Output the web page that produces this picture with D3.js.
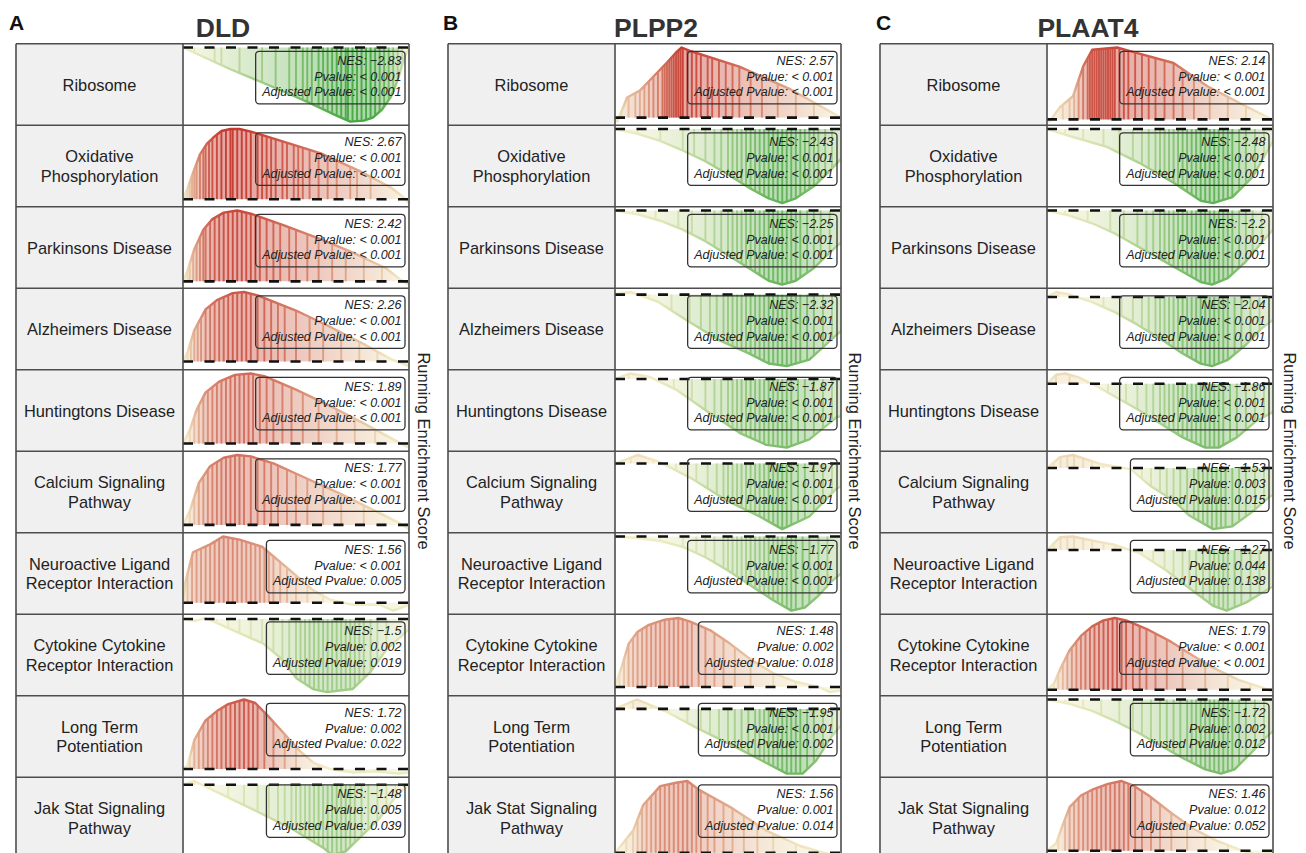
<!DOCTYPE html>
<html>
<head>
<meta charset="utf-8">
<script src="https://cdn.jsdelivr.net/npm/d3@7"></script>
<style>
  body { margin: 0; background: #fff; }
  svg { display: block; }
  text { font-family: "Liberation Sans", Arial, Helvetica, sans-serif; }
</style>
</head>
<body>
<svg id="fig" width="1306" height="853"></svg>
<script>
// ---------- data ----------
const genes = ["DLD", "PLPP2", "PLAAT4"];
const panelLetters = ["A", "B", "C"];
const pathways = [
  "Ribosome", "Oxidative\nPhosphorylation", "Parkinsons Disease", "Alzheimers Disease",
  "Huntingtons Disease", "Calcium Signaling\nPathway", "Neuroactive Ligand\nReceptor Interaction",
  "Cytokine Cytokine\nReceptor Interaction", "Long Term\nPotentiation", "Jak Stat Signaling\nPathway"
];

// normalized enrichment scores and p-values
const nesDLD = [-2.83, 2.67, 2.42, 2.26, 1.89, 1.77, 1.56, -1.5, 1.72, -1.48];
const pvalDLD = ["< 0.001", "< 0.001", "< 0.001", "< 0.001", "< 0.001", "< 0.001", "< 0.001", "0.002", "0.002", "0.005"];
const padjDLD = ["< 0.001", "< 0.001", "< 0.001", "< 0.001", "< 0.001", "< 0.001", "0.005", "0.019", "0.022", "0.039"];

const nesPLPP2 = [2.57, -2.43, -2.25, -2.32, -1.87, -1.97, -1.77, 1.48, -1.95, 1.56];
const pvalPLPP2 = ["< 0.001", "< 0.001", "< 0.001", "< 0.001", "< 0.001", "< 0.001", "< 0.001", "0.002", "< 0.001", "0.001"];
const padjPLPP2 = ["< 0.001", "< 0.001", "< 0.001", "< 0.001", "< 0.001", "< 0.001", "< 0.001", "0.018", "0.002", "0.014"];

const nesPLAAT4 = [2.14, -2.48, -2.2, -2.04, -1.86, -1.53, -1.27, 1.79, -1.72, 1.46];
const pvalPLAAT4 = ["< 0.001", "< 0.001", "< 0.001", "< 0.001", "< 0.001", "0.003", "0.044", "< 0.001", "0.002", "0.012"];
const padjPLAAT4 = ["< 0.001", "< 0.001", "< 0.001", "< 0.001", "< 0.001", "0.015", "0.138", "< 0.001", "0.012", "0.052"];

// running enrichment score: [rank fraction, ES]
const curvesDLD = [
  [[0,0],[.21,-.22],[.43,-.43],[.56,-.56],[.67,-.68],[.74,-.75],[.8,-.74],[.84,-.71],[.88,-.63],[.92,-.5],[.95,-.33],[.98,-.1],[1,0]],
  [[0,0],[.02,.11],[.044,.27],[.075,.46],[.106,.57],[.133,.63],[.17,.7],[.21,.72],[.25,.72],[.305,.69],[.43,.6],[.61,.47],[.78,.29],[.92,.12],[.97,.03],[1,-.04]],
  [[0,0],[.02,.1],[.05,.3],[.09,.48],[.13,.58],[.18,.64],[.24,.66],[.3,.63],[.45,.52],[.6,.4],[.75,.27],[.9,.12],[.96,.02],[1,-.03]],
  [[0,0],[.02,.08],[.05,.27],[.1,.45],[.15,.53],[.22,.59],[.27,.6],[.33,.57],[.5,.44],[.65,.3],[.8,.15],[.92,.02],[1,-.04]],
  [[0,0],[.03,.1],[.06,.25],[.1,.38],[.16,.46],[.23,.51],[.3,.52],[.36,.5],[.5,.4],[.65,.28],[.8,.15],[.92,.04],[1,-.03]],
  [[0,0],[.03,.1],[.07,.3],[.12,.42],[.18,.48],[.24,.5],[.3,.49],[.4,.44],[.55,.33],[.7,.22],[.85,.1],[.95,.02],[1,-.03]],
  [[0,0],[.01,.13],[.044,.32],[.12,.37],[.177,.42],[.25,.4],[.35,.355],[.47,.21],[.575,.08],[.65,.02],[.75,-.013],[.87,-.013],[.93,-.05],[.97,-.03],[1,-.013]],
  [[0,0],[.05,-.01],[.1,.005],[.21,-.05],[.354,-.12],[.43,-.19],[.5,-.29],[.575,-.345],[.637,-.36],[.75,-.345],[.83,-.26],[.9,-.15],[.96,-.09],[1,-.05]],
  [[0,0],[.02,.03],[.05,.25],[.1,.42],[.15,.5],[.2,.56],[.27,.6],[.32,.57],[.38,.45],[.45,.3],[.52,.15],[.58,.05],[.65,0],[.75,-.03],[.85,-.02],[.95,-.04],[1,-.03]],
  [[0,0],[.05,.02],[.1,-.01],[.21,-.075],[.354,-.16],[.47,-.23],[.62,-.34],[.66,-.38],[.72,-.36],[.87,-.18],[.95,-.05],[1,0]]
];
const curvesPLPP2 = [
  [[0,0],[.01,-.04],[.053,.2],[.11,.27],[.17,.41],[.23,.55],[.27,.65],[.295,.7],[.34,.66],[.55,.51],[.77,.29],[.92,.1],[1,0]],
  [[0,0],[.1,-.04],[.2,-.1],[.3,-.18],[.4,-.27],[.5,-.38],[.6,-.5],[.68,-.58],[.74,-.62],[.8,-.58],[.88,-.48],[.95,-.35],[1,-.25]],
  [[0,0],[.1,-.03],[.2,-.08],[.3,-.15],[.4,-.24],[.5,-.35],[.6,-.46],[.68,-.55],[.74,-.58],[.8,-.55],[.88,-.45],[.95,-.33],[1,-.25]],
  [[0,0],[.02,.01],[.07,.02],[.19,-.055],[.31,-.19],[.46,-.35],[.59,-.45],[.68,-.53],[.76,-.55],[.86,-.5],[.98,-.31],[1,-.28]],
  [[0,0],[.066,.04],[.154,.015],[.27,-.077],[.42,-.25],[.56,-.4],[.67,-.48],[.76,-.5],[.86,-.44],[.98,-.28],[1,-.27]],
  [[0,0],[.1,.067],[.2,.01],[.34,-.12],[.49,-.29],[.64,-.42],[.74,-.52],[.86,-.42],[.98,-.2],[1,-.18]],
  [[0,0],[.1,-.01],[.2,-.03],[.3,-.07],[.4,-.14],[.5,-.23],[.6,-.33],[.7,-.43],[.78,-.5],[.84,-.48],[.9,-.4],[.96,-.3],[1,-.25]],
  [[0,0],[.03,.12],[.06,.25],[.1,.32],[.15,.36],[.22,.39],[.28,.4],[.33,.38],[.42,.33],[.5,.26],[.6,.16],[.7,.08],[.8,.03],[.9,0],[.95,-.03],[1,-.02]],
  [[0,0],[.097,.08],[.23,-.026],[.37,-.17],[.52,-.31],[.67,-.46],[.76,-.55],[.83,-.55],[.89,-.44],[.96,-.23],[1,-.14]],
  [[0,0],[.08,.13],[.125,.28],[.2,.39],[.27,.41],[.32,.42],[.37,.37],[.52,.26],[.67,.13],[.82,.04],[.96,-.013],[1,0]]
];
const curvesPLAAT4 = [
  [[0,0],[.01,-.02],[.057,.11],[.115,.21],[.16,.48],[.2,.63],[.31,.65],[.38,.61],[.56,.51],[.71,.3],[.85,.15],[.985,.01],[1,0]],
  [[0,0],[.115,-.067],[.265,-.15],[.41,-.285],[.56,-.45],[.68,-.6],[.735,-.62],[.82,-.57],[.91,-.4],[.985,-.15],[1,-.1]],
  [[0,0],[.1,-.04],[.2,-.1],[.3,-.18],[.4,-.28],[.5,-.38],[.6,-.48],[.68,-.56],[.73,-.58],[.8,-.53],[.88,-.4],[.95,-.25],[1,-.15]],
  [[0,0],[.04,.04],[.1,.02],[.2,-.04],[.3,-.12],[.4,-.22],[.5,-.33],[.6,-.45],[.68,-.53],[.73,-.55],[.8,-.5],[.88,-.38],[.95,-.25],[1,-.18]],
  [[0,0],[.04,.07],[.08,.08],[.14,.05],[.22,-.02],[.3,-.1],[.4,-.2],[.5,-.31],[.6,-.42],[.7,-.5],[.76,-.5],[.84,-.42],[.92,-.3],[1,-.22]],
  [[0,0],[.057,.08],[.115,.096],[.235,.03],[.37,-.008],[.456,-.13],[.56,-.24],[.63,-.35],[.735,-.45],[.82,-.43],[.91,-.32],[.985,-.21],[1,-.2]],
  [[0,0],[.057,.08],[.115,.085],[.235,.05],[.3,.033],[.41,-.02],[.53,-.13],[.63,-.24],[.735,-.35],[.795,-.38],[.88,-.33],[.985,-.24],[1,-.23]],
  [[0,0],[.03,.05],[.06,.18],[.1,.33],[.15,.45],[.2,.53],[.25,.58],[.3,.6],[.35,.58],[.45,.5],[.55,.4],[.65,.28],[.75,.17],[.85,.08],[.95,.02],[1,-.02]],
  [[0,0],[.1,-.03],[.2,-.08],[.3,-.15],[.4,-.23],[.5,-.32],[.6,-.41],[.7,-.49],[.77,-.52],[.83,-.49],[.9,-.38],[.96,-.28],[1,-.22]],
  [[0,0],[.04,.05],[.07,.18],[.1,.3],[.15,.38],[.2,.42],[.27,.46],[.33,.48],[.38,.45],[.45,.38],[.55,.26],[.65,.15],[.75,.07],[.85,.01],[.93,-.03],[1,-.01]]
];

// positions of gene-set members along the ranked list (fraction of list)
const hitsDLD = [
  [.05,.14,.17,.25,.35,.41,.47,.5,.53,.55,.57,.6,.62,.64,.66,.68,.7,.72,.73,.75,.77,.79,.81,.83,.85,.87,.89,.91,.93,.95,.97],
  [.01,.02,.03,.04,.05,.06,.075,.09,.1,.115,.13,.15,.17,.19,.21,.22,.24,.26,.28,.3,.33,.35,.37,.39,.41,.44,.46,.49,.51,.53,.56,.6,.64,.68,.74,.77,.83],
  [.02,.03,.045,.06,.075,.09,.1,.12,.14,.16,.18,.2,.22,.24,.26,.28,.3,.32,.34,.37,.4,.43,.47,.5,.55,.6,.66,.72,.8,.88],
  [.02,.035,.05,.065,.08,.1,.12,.14,.16,.18,.2,.22,.24,.26,.28,.3,.33,.36,.39,.42,.45,.5,.56,.62,.7,.78,.86],
  [.03,.05,.07,.09,.11,.13,.15,.17,.19,.21,.23,.25,.27,.29,.31,.34,.37,.4,.44,.48,.53,.6,.68,.76,.85],
  [.03,.05,.07,.09,.11,.13,.15,.17,.19,.21,.23,.25,.27,.3,.33,.36,.39,.42,.46,.5,.55,.62,.7,.8],
  [.02,.04,.06,.08,.1,.12,.14,.16,.18,.2,.22,.24,.26,.28,.3,.32,.34,.36,.38,.4,.43,.46,.5,.55,.62,.7],
  [.05,.1,.15,.2,.25,.3,.35,.4,.44,.47,.5,.52,.54,.56,.58,.6,.62,.64,.66,.68,.7,.72,.74,.76,.78,.8,.83,.86,.9],
  [.03,.05,.07,.09,.11,.13,.15,.17,.19,.21,.23,.25,.27,.29,.31,.33,.36,.4,.45,.5,.6,.72,.85],
  [.05,.12,.2,.27,.33,.38,.42,.45,.48,.5,.52,.54,.56,.58,.6,.62,.64,.66,.68,.7,.72,.74,.76,.79,.82,.86,.9,.94]
];
const hitsPLPP2 = [
  [.03,.06,.09,.11,.13,.15,.17,.19,.21,.22,.23,.24,.25,.26,.27,.28,.29,.3,.32,.34,.36,.38,.41,.43,.46,.49,.52,.55,.6,.65,.72,.8,.88],
  [.1,.2,.3,.35,.4,.44,.47,.5,.52,.54,.56,.58,.6,.62,.64,.66,.68,.7,.72,.74,.76,.78,.8,.82,.84,.86,.88,.9,.93,.96],
  [.08,.18,.28,.34,.4,.44,.47,.5,.52,.54,.56,.58,.6,.62,.64,.66,.68,.7,.72,.74,.76,.78,.8,.82,.85,.88,.91,.95],
  [.05,.15,.25,.33,.38,.42,.45,.48,.5,.52,.54,.56,.58,.6,.62,.64,.66,.68,.7,.72,.74,.76,.78,.8,.82,.85,.88,.92,.96],
  [.06,.16,.26,.34,.4,.44,.47,.5,.52,.54,.56,.58,.6,.62,.64,.66,.68,.7,.72,.74,.76,.78,.81,.84,.88,.92,.96],
  [.07,.17,.27,.36,.41,.45,.48,.5,.52,.54,.56,.58,.6,.62,.64,.66,.68,.7,.72,.74,.76,.78,.81,.84,.88,.92,.96],
  [.1,.2,.3,.36,.4,.44,.48,.5,.52,.54,.56,.58,.6,.62,.64,.66,.68,.7,.72,.74,.76,.78,.8,.83,.86,.9,.94],
  [.02,.04,.06,.08,.1,.12,.14,.16,.18,.2,.22,.24,.26,.28,.3,.32,.34,.37,.4,.44,.48,.53,.6,.7,.8],
  [.08,.16,.24,.32,.38,.42,.46,.5,.53,.56,.59,.62,.64,.66,.68,.7,.72,.74,.76,.78,.8,.82,.85,.88,.92,.96],
  [.05,.08,.1,.12,.14,.16,.18,.2,.22,.24,.26,.28,.3,.32,.34,.36,.38,.41,.44,.48,.52,.57,.63,.7,.8,.9]
];
const hitsPLAAT4 = [
  [.03,.07,.1,.12,.14,.16,.18,.19,.2,.21,.22,.23,.24,.25,.26,.27,.28,.29,.3,.32,.34,.36,.39,.42,.45,.48,.52,.56,.6,.65,.72,.8,.88],
  [.08,.16,.25,.32,.38,.42,.45,.48,.5,.52,.54,.56,.58,.6,.62,.64,.66,.68,.7,.72,.74,.76,.78,.8,.82,.85,.88,.92,.96],
  [.08,.18,.28,.34,.4,.44,.47,.5,.52,.54,.56,.58,.6,.62,.64,.66,.68,.7,.72,.74,.76,.78,.8,.82,.85,.88,.91,.95],
  [.05,.15,.25,.33,.38,.42,.45,.48,.5,.52,.54,.56,.58,.6,.62,.64,.66,.68,.7,.72,.74,.76,.78,.8,.83,.86,.9,.94],
  [.04,.1,.18,.27,.35,.4,.44,.47,.5,.52,.54,.56,.58,.6,.62,.64,.66,.68,.7,.72,.74,.76,.78,.81,.84,.88,.92,.96],
  [.03,.06,.09,.12,.16,.2,.25,.3,.36,.42,.46,.5,.53,.56,.59,.62,.65,.67,.69,.71,.73,.75,.77,.79,.82,.85,.88,.92,.96],
  [.03,.06,.09,.12,.16,.2,.25,.3,.36,.42,.47,.52,.56,.6,.63,.66,.69,.72,.74,.76,.78,.8,.83,.86,.9,.94],
  [.03,.05,.07,.09,.11,.13,.15,.17,.19,.21,.23,.25,.27,.29,.31,.33,.35,.38,.41,.44,.48,.53,.6,.7,.8,.9],
  [.08,.16,.24,.32,.38,.42,.46,.5,.53,.56,.59,.62,.64,.66,.68,.7,.72,.74,.76,.78,.8,.82,.85,.88,.92,.96],
  [.05,.08,.1,.12,.14,.16,.18,.2,.22,.24,.26,.28,.3,.32,.34,.36,.39,.42,.46,.5,.55,.62,.7,.8]
];

const panels = [
  { gene: genes[0], letter: panelLetters[0], nes: nesDLD, pval: pvalDLD, padj: padjDLD, curves: curvesDLD, hits: hitsDLD },
  { gene: genes[1], letter: panelLetters[1], nes: nesPLPP2, pval: pvalPLPP2, padj: padjPLPP2, curves: curvesPLPP2, hits: hitsPLPP2 },
  { gene: genes[2], letter: panelLetters[2], nes: nesPLAAT4, pval: pvalPLAAT4, padj: padjPLAAT4, curves: curvesPLAAT4, hits: hitsPLAAT4 }
];

// ---------- layout ----------
const rowTop = 43.8, rowH = 81.5;
const labelW = 167, plotW = 226;
const panelLeft = [16, 448, 880];
const titleX = [223, 656, 1088];
const letterX = [9, 443, 876];
const yTitleX = [424, 855, 1290];

const svg = d3.select("#fig");
const defs = svg.append("defs");

// ES -> colour: green (negative) through pale yellow to red (positive)
const esColor = d3.scaleLinear()
  .domain([-0.72, 0, 0.72])
  .range(["#47a843", "#f3eec6", "#c5392f"])
  .clamp(true);

function esAt(pts, x) {
  for (let k = 1; k < pts.length; k++) {
    if (x <= pts[k][0]) {
      const a = pts[k - 1], b = pts[k];
      const t = (x - a[0]) / (b[0] - a[0] || 1);
      return a[1] + t * (b[1] - a[1]);
    }
  }
  return pts[pts.length - 1][1];
}

const fmtNES = v => "NES: " + String(v).replace("-", "\u2212");

panels.forEach((p, pi) => {
  const x0 = panelLeft[pi];
  const px = x0 + labelW;
  const g = svg.append("g");

  g.append("text").attr("x", letterX[pi]).attr("y", 30)
    .attr("font-size", 21).attr("font-weight", "bold").attr("fill", "#111")
    .text(p.letter);
  g.append("text").attr("x", titleX[pi]).attr("y", 37)
    .attr("text-anchor", "middle").attr("font-size", 26.5).attr("font-weight", "bold").attr("fill", "#333")
    .text(p.gene);

  g.append("text")
    .attr("transform", `translate(${yTitleX[pi]},451) rotate(90)`)
    .attr("text-anchor", "middle").attr("dominant-baseline", "central")
    .attr("font-size", 16.5).attr("fill", "#222")
    .text("Running Enrichment Score");

  const xs = d3.scaleLinear().domain([0, 1]).range([px, px + plotW]);

  pathways.forEach((name, i) => {
    const y0 = rowTop + i * rowH;
    const pts = p.curves[i];
    const hits = p.hits[i];

    // label cell
    g.append("rect").attr("x", x0).attr("y", y0).attr("width", labelW).attr("height", rowH)
      .attr("fill", "#f0f0f0");
    const lines = name.split("\n");
    const lt = g.append("text").attr("text-anchor", "middle").attr("font-size", 16.4).attr("fill", "#222");
    lines.forEach((ln, k) => {
      lt.append("tspan").attr("x", x0 + labelW / 2)
        .attr("y", y0 + rowH / 2 + 6 + (k - (lines.length - 1) / 2) * 19.5)
        .text(ln);
    });

    // plot cell
    const [lo, hi] = d3.extent(pts, d => d[1]);
    const span = hi - lo;
    const ys = d3.scaleLinear().domain([lo - span * 0.05, hi + span * 0.05]).range([y0 + rowH, y0]);

    const clipId = `clip-${pi}-${i}`;
    defs.append("clipPath").attr("id", clipId)
      .append("rect").attr("x", px).attr("y", y0).attr("width", plotW).attr("height", rowH);
    const gradId = `grad-${pi}-${i}`;
    const grad = defs.append("linearGradient").attr("id", gradId)
      .attr("gradientUnits", "userSpaceOnUse")
      .attr("x1", xs(0)).attr("x2", xs(1)).attr("y1", 0).attr("y2", 0);
    pts.forEach(d => grad.append("stop").attr("offset", d[0]).attr("stop-color", esColor(d[1])));

    const cell = g.append("g").attr("clip-path", `url(#${clipId})`);
    cell.append("rect").attr("x", px).attr("y", y0).attr("width", plotW).attr("height", rowH).attr("fill", "#fff");

    const area = d3.area().x(d => xs(d[0])).y0(ys(0)).y1(d => ys(d[1]));
    cell.append("path").datum(pts).attr("d", area)
      .attr("fill", `url(#${gradId})`).attr("opacity", 0.45);

    cell.selectAll(null).data(hits).join("line")
      .attr("x1", d => xs(d)).attr("x2", d => xs(d))
      .attr("y1", ys(0)).attr("y2", d => ys(esAt(pts, d)))
      .attr("stroke", d => esColor(esAt(pts, d)))
      .attr("stroke-width", 1.9).attr("opacity", 0.95);

    const line = d3.line().x(d => xs(d[0])).y(d => ys(d[1]));
    cell.append("path").datum(pts).attr("d", line)
      .attr("fill", "none").attr("stroke", `url(#${gradId})`).attr("stroke-width", 2.4)
      .attr("stroke-linejoin", "round");

    // zero line
    cell.append("line").attr("x1", xs(0)).attr("x2", xs(1))
      .attr("y1", ys(0)).attr("y2", ys(0))
      .attr("stroke", "#111").attr("stroke-width", 2.6).attr("stroke-dasharray", "10 11.5");

    // statistics label
    const tx = px + plotW - 7.5;
    const st = cell.append("g").attr("font-size", 12.5).attr("font-style", "italic").attr("fill", "#222")
      .attr("text-anchor", "end");
    const labels = [fmtNES(p.nes[i]), "Pvalue: " + p.pval[i], "Adjusted Pvalue: " + p.padj[i]];
    const offs = [21, 37, 52.5];
    let maxW = 0;
    labels.forEach((s, k) => {
      const t = st.append("text").attr("x", tx).attr("y", y0 + offs[k]).text(s);
      maxW = Math.max(maxW, t.node().getComputedTextLength());
    });
    cell.append("rect")
      .attr("x", tx - maxW - 6.5).attr("y", y0 + 7.5)
      .attr("width", maxW + 10).attr("height", 52.5)
      .attr("rx", 3.5).attr("fill", "none").attr("stroke", "#333").attr("stroke-width", 1.3);
  });

  // grid
  const grid = g.append("g").attr("stroke", "#4d4d4d").attr("stroke-width", 1.6).attr("fill", "none");
  const bottom = rowTop + pathways.length * rowH;
  d3.range(pathways.length + 1).forEach(k => {
    grid.append("line").attr("x1", x0).attr("x2", px + plotW)
      .attr("y1", rowTop + k * rowH).attr("y2", rowTop + k * rowH);
  });
  [x0, px, px + plotW].forEach(xv => {
    grid.append("line").attr("x1", xv).attr("x2", xv).attr("y1", rowTop).attr("y2", bottom);
  });
});
</script>
</body>
</html>
